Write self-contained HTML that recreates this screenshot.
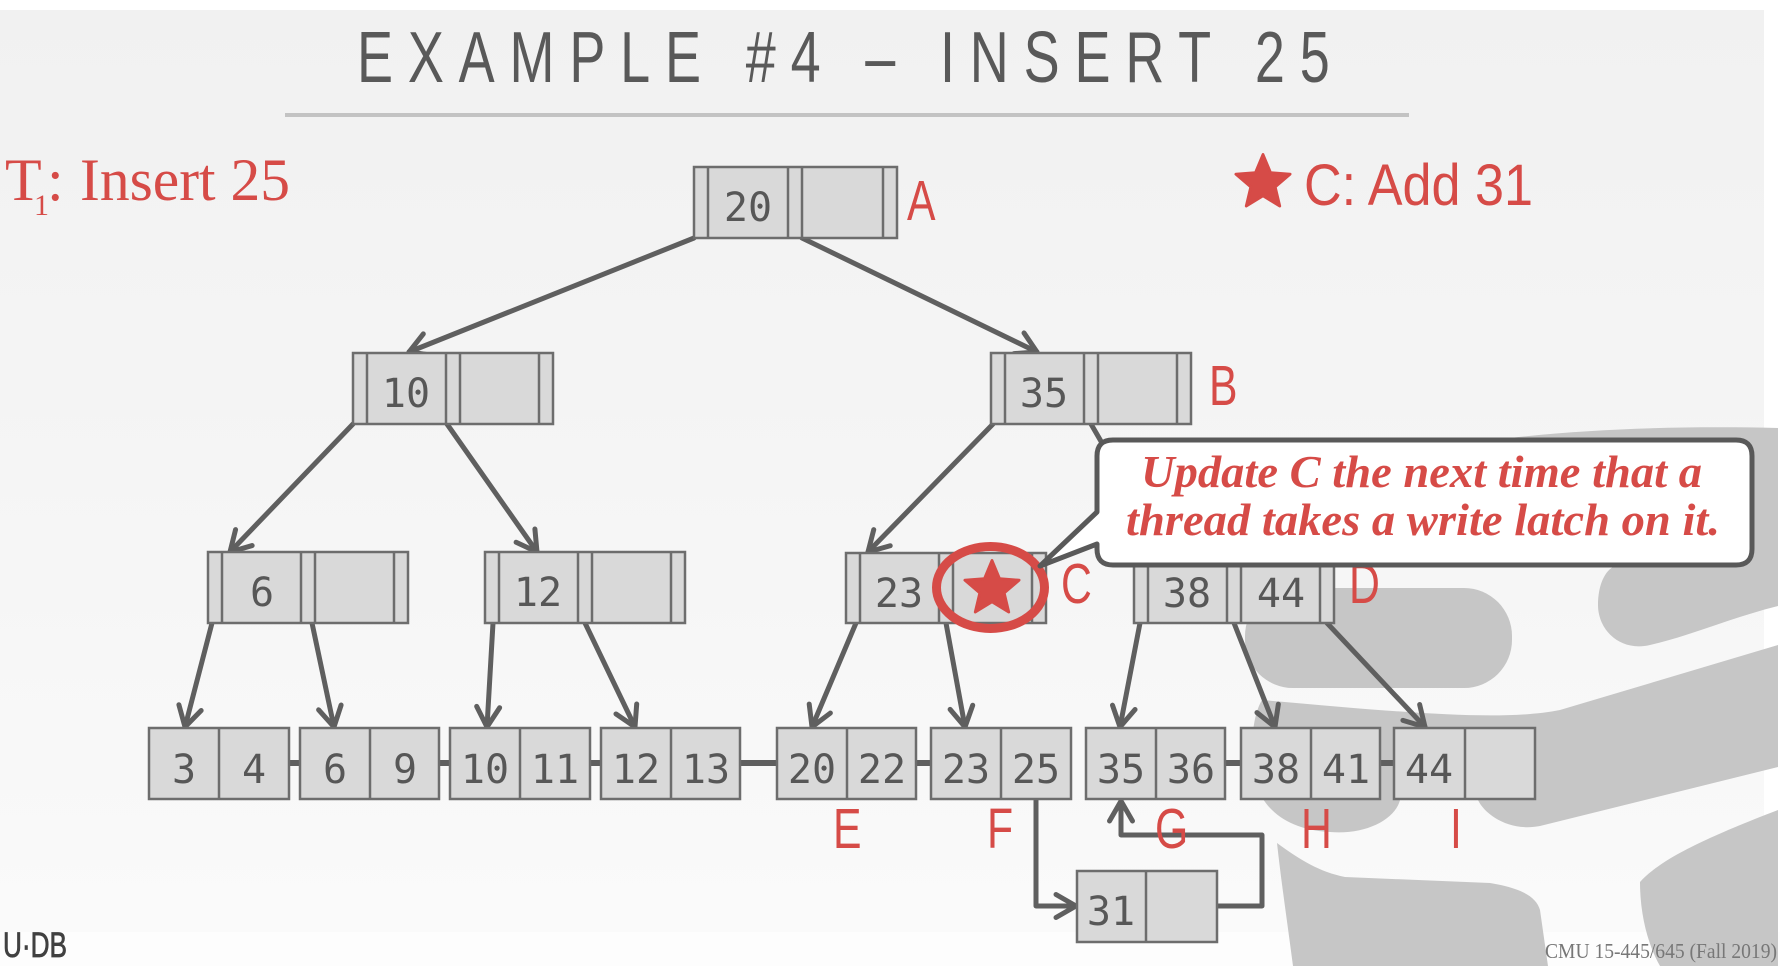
<!DOCTYPE html>
<html>
<head>
<meta charset="utf-8">
<style>
html,body{margin:0;padding:0;width:1780px;height:966px;overflow:hidden;background:#fff}
svg{display:block}
</style>
</head>
<body>
<svg width="1780" height="966" viewBox="0 0 1780 966" xmlns="http://www.w3.org/2000/svg">
<defs>
<linearGradient id="bg" x1="0" y1="0" x2="0" y2="1">
<stop offset="0" stop-color="#f1f1f1"/>
<stop offset="0.5" stop-color="#f5f5f5"/>
<stop offset="1" stop-color="#fafafa"/>
</linearGradient>
<marker id="ah" markerUnits="userSpaceOnUse" orient="auto" refX="0" refY="0" viewBox="-30 -20 40 40" markerWidth="40" markerHeight="40" overflow="visible">
<path d="M-20,-11.5 L0,0 L-20,11.5" fill="none" stroke="#5f5f5f" stroke-width="5" stroke-linecap="round" stroke-linejoin="round"/>
</marker>
</defs>

<!-- background -->
<rect x="0" y="0" width="1780" height="966" fill="#ffffff"/>
<rect x="0" y="10" width="1764" height="922" fill="url(#bg)"/>
<rect x="0" y="932" width="1780" height="34" fill="#fdfdfd"/>

<!-- logo shapes -->
<g fill="#c6c6c6">
<path d="M1510,438 C1600,428 1690,426 1778,428 L1778,606 C1730,618 1690,636 1650,645 C1620,652 1598,630 1598,605 C1598,585 1605,570 1615,566 L1500,566 L1500,450 C1500,443 1504,439 1510,438 Z"/>
<rect x="1245" y="588" width="267" height="100" rx="48" ry="48"/>
<path d="M1262,700 C1400,712 1500,722 1560,710 L1778,645 L1778,767 L1540,826 C1510,832 1485,815 1478,800 L1400,800 C1395,820 1365,835 1330,832 C1290,830 1268,812 1258,790 C1250,760 1250,720 1262,700 Z"/>
<path d="M1277,843 C1300,860 1320,872 1345,877 L1490,883 C1520,888 1536,896 1540,910 L1548,966 L1293,966 C1287,920 1281,880 1277,843 Z"/>
<path d="M1640,882 C1660,860 1700,840 1778,810 L1778,966 L1660,966 C1648,945 1640,915 1640,882 Z"/>
</g>

<!-- title -->
<text transform="translate(357,82) scale(0.75,1)" font-family="Liberation Sans, sans-serif" font-size="72" fill="#595959" textLength="1297" lengthAdjust="spacing">EXAMPLE #4 – INSERT 25</text>
<rect x="285" y="113" width="1124" height="4" fill="#c3c3c3"/>

<!-- T1: Insert 25 -->
<g font-family="Liberation Serif, serif" fill="#d64b47">
<text x="5" y="200" font-size="60">T</text>
<text x="34" y="215" font-size="30">1</text>
<text x="47" y="200" font-size="60">:</text>
<text x="80" y="200" font-size="60" textLength="210" lengthAdjust="spacingAndGlyphs">Insert 25</text>
</g>

<!-- star + C: Add 31 -->
<polygon transform="translate(1263,183) scale(0.95)" points="0,-30 7.94,-10.92 28.53,-9.27 12.84,4.17 17.63,24.27 0,13.5 -17.63,24.27 -12.84,4.17 -28.53,-9.27 -7.94,-10.92" fill="#d64b47" stroke="#d64b47" stroke-width="3" stroke-linejoin="round"/>
<text x="1304" y="205" font-family="Liberation Sans, sans-serif" font-size="58" fill="#d64b47" textLength="229" lengthAdjust="spacingAndGlyphs">C: Add 31</text>

<!-- arrows -->
<g stroke="#5f5f5f" stroke-width="5" stroke-linecap="round" stroke-linejoin="round" fill="none" marker-end="url(#ah)">
<line x1="694" y1="238" x2="409" y2="352"/>
<line x1="802" y1="238" x2="1037" y2="352"/>
<line x1="353" y1="424" x2="230" y2="552"/>
<line x1="447" y1="424" x2="537" y2="552"/>
<line x1="993" y1="424" x2="868" y2="552"/>
<line x1="1091" y1="424" x2="1165" y2="552"/>
<line x1="212" y1="623" x2="185" y2="727"/>
<line x1="312" y1="623" x2="334" y2="727"/>
<line x1="493" y1="623" x2="487" y2="727"/>
<line x1="585" y1="623" x2="635" y2="727"/>
<line x1="856" y1="623" x2="812" y2="727"/>
<line x1="946" y1="623" x2="965" y2="727"/>
<line x1="1140" y1="623" x2="1120" y2="727"/>
<line x1="1234" y1="623" x2="1275" y2="727"/>
<line x1="1327" y1="623" x2="1425" y2="727"/>
<polyline points="1036,799 1036,906 1076,906"/>
<polyline points="1217,906 1262,906 1262,835 1121,835 1121,801"/>
</g>

<!-- leaf sibling connectors -->
<g stroke="#5f5f5f" stroke-width="6">
<line x1="289" y1="763" x2="300" y2="763"/>
<line x1="439" y1="763" x2="450" y2="763"/>
<line x1="590" y1="763" x2="601" y2="763"/>
<line x1="740" y1="763" x2="777" y2="763"/>
<line x1="916" y1="763" x2="931" y2="763"/>
<line x1="1225" y1="763" x2="1241" y2="763"/>
<line x1="1380" y1="763" x2="1394" y2="763"/>
</g>

<!-- internal nodes -->
<g fill="#d9d9d9" stroke="#6d6d6d" stroke-width="2.5">
<rect x="694" y="167" width="203" height="71"/>
<path d="M708,167v71 M788,167v71 M802,167v71 M883,167v71"/>
<rect x="353" y="353" width="200" height="71"/>
<path d="M367,353v71 M446,353v71 M460,353v71 M539,353v71"/>
<rect x="991" y="353" width="200" height="71"/>
<path d="M1005,353v71 M1084,353v71 M1098,353v71 M1177,353v71"/>
<rect x="208" y="552" width="200" height="71"/>
<path d="M222,552v71 M301,552v71 M315,552v71 M394,552v71"/>
<rect x="485" y="552" width="200" height="71"/>
<path d="M499,552v71 M578,552v71 M592,552v71 M671,552v71"/>
<rect x="846" y="553" width="200" height="70"/>
<path d="M860,553v70 M939,553v70 M953,553v70 M1032,553v70"/>
<rect x="1134" y="553" width="200" height="70"/>
<path d="M1148,553v70 M1227,553v70 M1241,553v70 M1320,553v70"/>
</g>

<!-- leaves -->
<g fill="#d9d9d9" stroke="#6d6d6d" stroke-width="2.5">
<rect x="149" y="728" width="140" height="71"/><path d="M219,728v71"/>
<rect x="300" y="728" width="139" height="71"/><path d="M370,728v71"/>
<rect x="450" y="728" width="140" height="71"/><path d="M520,728v71"/>
<rect x="601" y="728" width="139" height="71"/><path d="M671,728v71"/>
<rect x="777" y="728" width="139" height="71"/><path d="M847,728v71"/>
<rect x="931" y="728" width="140" height="71"/><path d="M1001,728v71"/>
<rect x="1086" y="728" width="139" height="71"/><path d="M1156,728v71"/>
<rect x="1241" y="728" width="139" height="71"/><path d="M1311,728v71"/>
<rect x="1394" y="728" width="141" height="71"/><path d="M1465,728v71"/>
<rect x="1077" y="871" width="140" height="71"/><path d="M1146,871v71"/>
</g>

<!-- keys -->
<g font-family="DejaVu Sans Mono, Liberation Mono, monospace" font-size="40" fill="#575757" text-anchor="middle">
<text x="748" y="221">20</text>
<text x="406" y="407">10</text>
<text x="1044" y="407">35</text>
<text x="262" y="606">6</text>
<text x="538" y="606">12</text>
<text x="899" y="607">23</text>
<text x="1187" y="607">38</text>
<text x="1281" y="607">44</text>
<text x="184" y="783">3</text><text x="254" y="783">4</text>
<text x="335" y="783">6</text><text x="405" y="783">9</text>
<text x="485" y="783">10</text><text x="555" y="783">11</text>
<text x="636" y="783">12</text><text x="706" y="783">13</text>
<text x="812" y="783">20</text><text x="882" y="783">22</text>
<text x="966" y="783">23</text><text x="1036" y="783">25</text>
<text x="1121" y="783">35</text><text x="1191" y="783">36</text>
<text x="1276" y="783">38</text><text x="1346" y="783">41</text>
<text x="1429" y="783">44</text>
<text x="1111" y="925">31</text>
</g>

<!-- red labels -->
<g font-family="Liberation Sans, sans-serif" font-size="57" fill="#d64b47">
<text transform="translate(907,220) scale(0.75,1)">A</text>
<text transform="translate(1209,405) scale(0.75,1)">B</text>
<text transform="translate(1061,603) scale(0.75,1)">C</text>
<text transform="translate(1349,603) scale(0.75,1)">D</text>
<text transform="translate(833,848) scale(0.75,1)">E</text>
<text transform="translate(987,848) scale(0.75,1)">F</text>
<text transform="translate(1155,848) scale(0.75,1)">G</text>
<text transform="translate(1301,848) scale(0.75,1)">H</text>
<text transform="translate(1450,848) scale(0.75,1)">I</text>
</g>

<!-- star in C with circle -->
<polygon transform="translate(992,589) scale(0.95)" points="0,-30 7.94,-10.92 28.53,-9.27 12.84,4.17 17.63,24.27 0,13.5 -17.63,24.27 -12.84,4.17 -28.53,-9.27 -7.94,-10.92" fill="#d64b47" stroke="#d64b47" stroke-width="3" stroke-linejoin="round"/>
<ellipse cx="990.5" cy="587.5" rx="54" ry="41" fill="none" stroke="#d64b47" stroke-width="9"/>

<!-- callout -->
<path d="M1113,440 H1736 Q1752,440 1752,456 V549 Q1752,565 1736,565 H1113 Q1097,565 1097,549 V544 L1040,566 L1097,512 V456 Q1097,440 1113,440 Z" fill="#ffffff" stroke="#595959" stroke-width="5" stroke-linejoin="round"/>
<g font-family="Liberation Serif, serif" font-weight="bold" font-style="italic" font-size="46" fill="#d64b47">
<text x="1141" y="487" textLength="561" lengthAdjust="spacingAndGlyphs">Update C the next time that a</text>
<text x="1126" y="535" textLength="594" lengthAdjust="spacingAndGlyphs">thread takes a write latch on it.</text>
</g>

<!-- footer -->
<text x="3" y="957" font-family="Liberation Sans, sans-serif" font-size="35" fill="#404040" stroke="#404040" stroke-width="0.8" textLength="64" lengthAdjust="spacingAndGlyphs">U·DB</text>
<text x="1545" y="958" font-family="Liberation Serif, serif" font-size="21" fill="#777777" textLength="232" lengthAdjust="spacingAndGlyphs">CMU 15-445/645 (Fall 2019)</text>
</svg>
</body>
</html>
